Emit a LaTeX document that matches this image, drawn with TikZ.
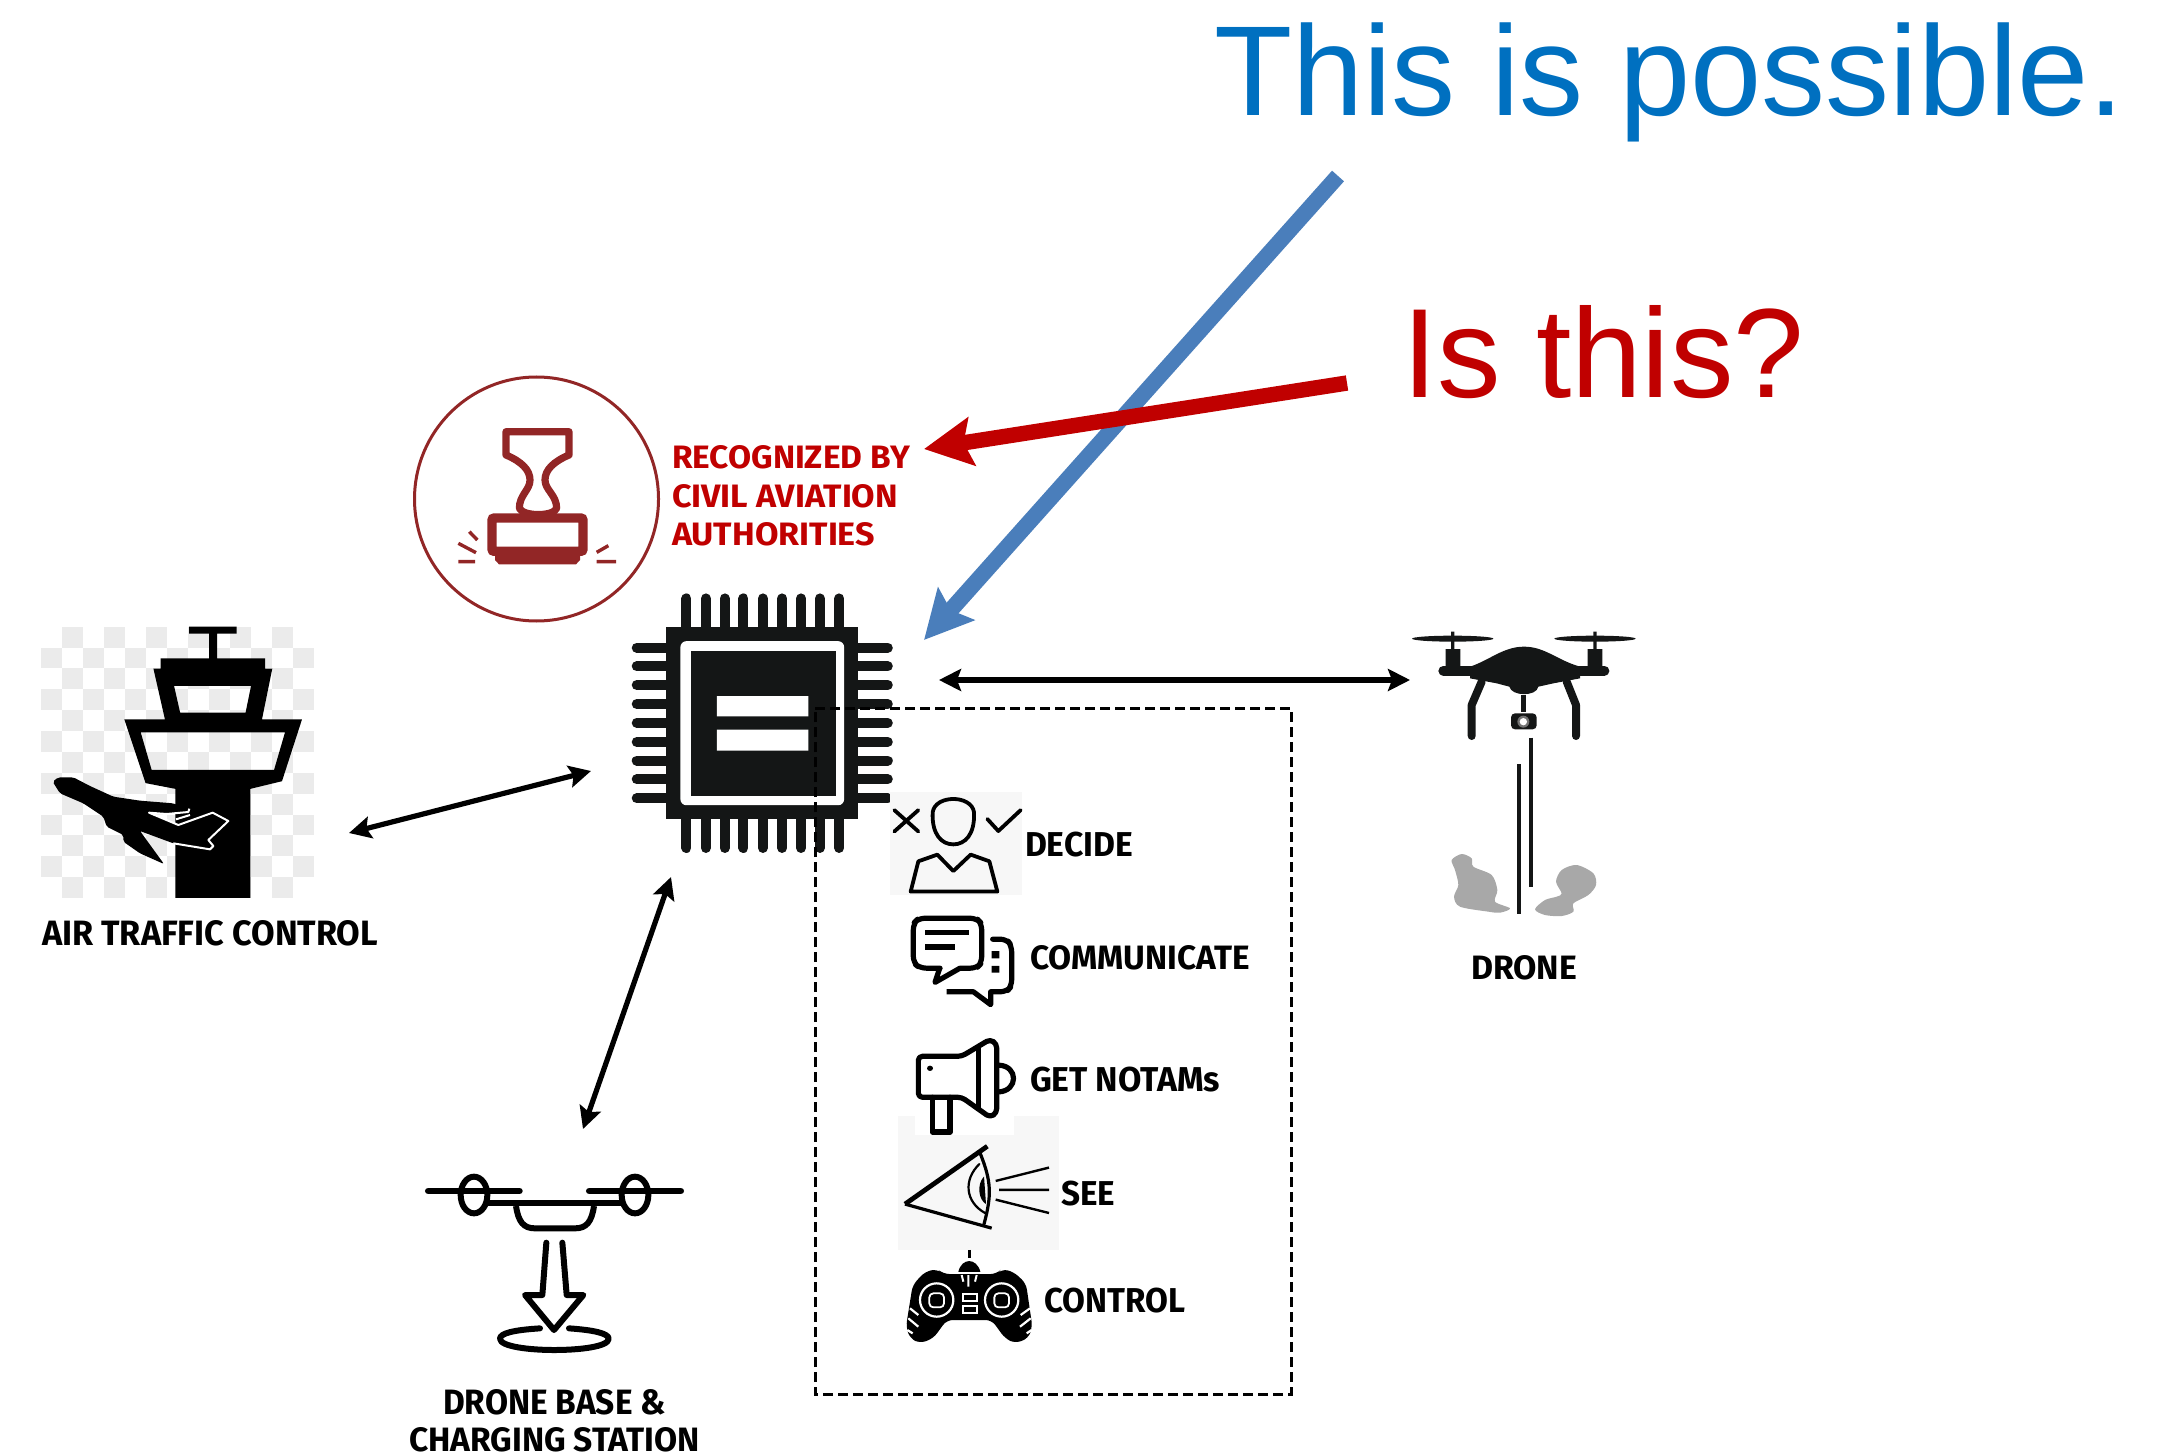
\documentclass[tikz,border=0pt]{standalone}
\usepackage{fontspec}
\usepackage{graphicx}
\setmainfont{Liberation Sans}
\newfontfamily\lblfont{Fira Sans}
\usetikzlibrary{arrows.meta}
\definecolor{blueT}{HTML}{0070C0}
\definecolor{redT}{HTML}{C00000}
\definecolor{blueA}{HTML}{4A7EBB}
\definecolor{stamp}{HTML}{922626}
\definecolor{chipk}{HTML}{141616}
\tikzset{
 zoomA/.style={x=0.3032pt,y=-0.1908pt,yshift=-175pt},
 zoomB/.style={x=0.16667pt,y=-0.2226pt,xshift=425pt,yshift=-375pt},
 zoomC/.style={x=0.16667pt,y=-0.16667pt,xshift=190pt,yshift=-550pt},
 zoomD/.style={x=0.16667pt,y=-0.16667pt,xshift=690pt,yshift=-300pt},
 zoomE/.style={x=0.16667pt,y=-0.16667pt,xshift=20pt,yshift=-380pt},
 zoomF/.style={x=0.16667pt,y=-0.16667pt,xshift=220pt,yshift=-210pt},
 zoomG/.style={x=0.16667pt,y=-0.16667pt,xshift=450pt,yshift=-635pt},
 twoway/.style={line width=2.6pt,{Stealth[length=11pt,width=11pt,inset=2pt]}-{Stealth[length=11pt,width=11pt,inset=2pt]}},
 bigblue/.style={line width=8pt,blueA,-{Stealth[length=24pt,width=24pt,inset=4pt]}},
 bigred/.style={line width=7.7pt,redT,-{Stealth[length=24pt,width=24pt,inset=4pt]}},
 lbl/.style={anchor=base west,inner sep=0pt,outer sep=0pt},
 ico/.style={line width=2.2pt,line join=round,line cap=round},
}
\newlength{\lblw}\newlength{\lblh}
% name, x, baseline, width (px), cap height (px), text
\newcommand{\lbltext}[7][black]{\setlength{\lblw}{#5pt}\setlength{\lblw}{0.5\lblw}\setlength{\lblh}{#6pt}\setlength{\lblh}{0.5\lblh}\node[lbl,text=#1] (#2) at (#3,#4) {\resizebox{\lblw}{\lblh}{\lblfont\bfseries #7}};}
\begin{document}
\begin{tikzpicture}[x=0.5pt,y=-0.5pt]
\useasboundingbox (0,0) rectangle (2177,1454);

% ---- ATC
\begin{scope}[zoomA]
\foreach \r in {0,...,12}{\foreach \c in {0,...,12}{
 \pgfmathtruncatemacro{\q}{mod(\r+\c,2)}
 \ifnum\q=1
  \fill[black!8] ({68+\c*34.6},{725+\r*54.7}) rectangle ++(34.6,54.7);
 \fi
}}
\fill[black,even odd rule] (312,725) -- (390,725) -- (390,743) -- (358,743) -- (358,808) -- (437,808) -- (437,835) -- (449,835) -- (432,968) -- (498,968) -- (465,1130) -- (413,1150) -- (413,1436) -- (289,1436) -- (289,1150) -- (240,1135) -- (205,968) -- (272,968) -- (253,835) -- (265,835) -- (265,808) -- (345,808) -- (345,743) -- (312,743) -- cycle
 (287,880) -- (414,880) -- (405,950) -- (297,950) -- cycle
 (232,1002) -- (470,1002) -- (452,1100) -- (250,1100) -- cycle;

% ---- chip
\fill[chipk] (1098,727) rectangle (1415,1228);
\foreach \px in {1132,1164,1195,1226,1258,1290,1321,1352,1384}{
 \draw[chipk,line width=5pt,line cap=round] (\px,651) -- (\px,1305);
}
\foreach \py in {780,829,878,928,977,1027,1076,1125,1175}{
 \draw[chipk,line width=5pt,line cap=round] (1050,\py) -- (1464,\py);
}
\fill[white,rounded corners=3pt] (1122,763) rectangle (1392,1193);
\fill[chipk] (1140,790) rectangle (1378,1168);
\fill[white] (1182,907) rectangle (1333,960) (1182,995) rectangle (1333,1050);
\end{scope}
\node[inner sep=0pt] (chip) at (761,724) {};

% ---- plane
\begin{scope}[zoomE]
\fill[black,rounded corners=1pt] (38,65) -- (55,52) -- (100,52) -- (150,78) -- (220,110) -- (300,122) -- (400,130) -- (445,148) -- (440,155) -- (380,160) -- (327,158) -- (415,195) -- (518,158) -- (565,183) -- (505,240) -- (520,258) -- (510,268) -- (400,250) -- (300,213) -- (372,312) -- (300,280) -- (250,245) -- (250,225) -- (200,200) -- (190,170) -- (130,130) -- (60,100) -- cycle;
\draw[white,line width=1pt,line join=round] (448,146) -- (445,156) -- (380,162) -- (327,158) -- (415,195) -- (518,158) -- (565,183) -- (505,240) -- (520,258) -- (510,268) -- (400,250);
\draw[white,line width=1pt] (408,178) -- (450,165);
\end{scope}

% ---- stamp
\draw[stamp,line width=1.5pt] (536.5,499) circle [radius=122];
\begin{scope}[zoomF]
\draw[stamp,line width=3.6pt,line join=round] (198,35) -- (387,35) -- (387,105) .. controls (340,125) and (315,150) .. (315,180) .. controls (315,210) and (350,225) .. (350,265) .. controls (340,290) and (250,290) .. (238,265) .. controls (238,225) and (270,210) .. (270,180) .. controls (270,150) and (245,125) .. (198,105) -- cycle;
\draw[stamp,line width=4.6pt,rounded corners=1pt] (156,294) rectangle (429,394);
\fill[stamp] (165,400) -- (420,400) -- (420,420) -- (408,433) -- (177,433) -- (165,420) -- cycle;
\draw[stamp,line width=1.7pt]
 (88,335) -- (112,360) (55,370) -- (108,398) (55,425) -- (105,425)
 (505,377) -- (470,397) (470,425) -- (528,425);
\end{scope}

% ---- dashed box
\draw[line width=1.5pt,dash pattern=on 5pt off 2.5pt] (815,708) -- (1291,708) -- (1291,1394) -- (815,1394) -- cycle;

% ---- activity icons
\begin{scope}[zoomB]
\fill[black!3] (120,95) rectangle (515,325);
\fill[black!3] (143,822) rectangle (627,1122);
\fill[white] (195,822) rectangle (493,865);
% person
\draw[ico,line width=1.9pt] (248,140) .. controls (255,100) and (365,100) .. (372,140) .. controls (375,190) and (345,212) .. (310,212) .. controls (275,212) and (245,190) .. (248,140) -- cycle;
\draw[ico,line width=1.9pt] (182,318) -- (205,250) -- (262,235) -- (310,272) -- (362,235) -- (418,250) -- (442,318) -- cycle;
\draw[ico,line width=1.9pt] (133,135) -- (205,183) (205,135) -- (133,183) (412,155) -- (445,182) -- (512,135);
% chat
\draw[ico,line width=2.6pt,rounded corners=3pt] (270,490) -- (210,490) -- (190,478) -- (190,390) -- (205,378) -- (380,378) -- (395,390) -- (395,478) -- (380,490) -- (330,490);
\draw[ico,line width=2.6pt,line cap=butt] (270,488) -- (255,522) -- (330,490);
\draw[line width=2.8pt] (225,410) -- (358,410) (225,443) -- (315,443);
\draw[ico,line width=2.6pt,rounded corners=3pt] (428,425) -- (470,425) -- (485,440) -- (485,530) -- (470,543) -- (422,543);
\draw[ico,line width=2.6pt,line cap=butt] (422,543) -- (422,572) -- (370,543) -- (290,543);
\fill (425,452) rectangle (448,468) (425,485) rectangle (448,500);
% megaphone
\draw[ico,line width=2.6pt,rounded corners=2pt] (205,688) -- (335,688) -- (420,650) -- (440,660) -- (440,815) -- (420,825) -- (335,780) -- (205,780) -- cycle;
\draw[line width=2.6pt] (385,665) -- (385,810);
\fill (240,715) ellipse [x radius=9,y radius=6];
\draw[ico,line width=2.6pt] (247,780) -- (247,858) -- (300,858) -- (300,780);
\draw[ico,line width=2.6pt] (447,708) .. controls (505,710) and (505,765) .. (447,768);
% eye
\draw[ico,line width=2.4pt,line cap=butt] (412,890) -- (165,1020);
\draw[ico,line width=1.6pt,line cap=butt] (165,1020) -- (425,1074);
\draw[ico,line width=1.6pt] (390,905) .. controls (425,970) and (425,1000) .. (402,1065);
\draw[ico,line width=1.1pt] (388,930) .. controls (340,965) and (345,1015) .. (405,1040);
\fill (402,958) .. controls (380,975) and (385,1010) .. (408,1020) -- cycle;
\draw[line width=1.2pt] (437,968) -- (597,938) (447,988) -- (597,988) (437,1010) -- (597,1040);
% gamepad antenna and dome
\draw[line width=1.6pt] (358,1123) -- (358,1142);
\fill (325,1172) .. controls (335,1140) and (380,1140) .. (391,1172) -- cycle;
\end{scope}

% ---- gamepad
\begin{scope}[zoomG]
\fill[rounded corners=3pt] (130,12) -- (290,12) -- (305,-3) -- (340,5) -- (378,40) -- (397,170) -- (385,205) -- (345,220) -- (315,205) -- (275,150) -- (140,150) -- (100,205) -- (60,220) -- (30,205) -- (18,170) -- (38,45) -- (75,5) -- (112,-3) -- cycle;
\foreach \cx in {110,305}{
 \draw[white,line width=1.1pt] (\cx,90) circle [radius=50];
 \draw[white,line width=.9pt,rounded corners=2pt] (\cx-22,70) rectangle (\cx+22,112);
}
\draw[white,line width=.9pt] (188,72) rectangle (232,92) (188,108) rectangle (232,130);
\draw[white,line width=1pt] (205,15) -- (205,50) (185,15) -- (190,35) (230,15) -- (225,35);
\draw[white,line width=1.1pt] (30,115) -- (55,135) (25,145) -- (55,170) (22,180) -- (38,190) (390,115) -- (362,135) (392,145) -- (360,170) (395,180) -- (380,190);
\end{scope}

% ---- base drone
\begin{scope}[zoomC]
\draw[ico,line width=3.4pt] (145,273) -- (418,273) (628,273) -- (902,273);
\draw[ico,line width=3pt] (282,285) ellipse [x radius=40,y radius=55];
\draw[ico,line width=3pt] (765,285) ellipse [x radius=40,y radius=55];
\draw[line width=3pt] (322,310) -- (725,310);
\draw[line width=3pt,line join=round] (408,318) .. controls (415,365) and (430,385) .. (465,385) -- (585,385) .. controls (620,385) and (635,365) .. (642,318);
\draw[ico,line width=3pt] (499,428) -- (487,585) -- (435,585) -- (522,690) -- (610,585) -- (560,585) -- (547,428);
\draw[ico,line width=3pt] (480,685) .. controls (400,690) and (360,700) .. (360,716) .. controls (360,740) and (450,750) .. (522,750) .. controls (600,750) and (686,740) .. (686,716) .. controls (686,700) and (640,690) .. (567,685);
\end{scope}

% ---- quad drone
\begin{scope}[zoomD]
\fill[chipk] (218,116) ellipse [x radius=122,y radius=9];
\fill[chipk] (645,116) ellipse [x radius=122,y radius=9];
\fill[chipk] (213,95) rectangle (223,150) (640,95) rectangle (650,150);
\fill[chipk] (197,147) rectangle (241,200) (623,147) rectangle (667,200);
\draw[chipk,line width=5pt,line cap=round] (190,212) -- (673,212);
\fill[chipk] (270,200) .. controls (330,180) and (370,140) .. (432,140) .. controls (495,140) and (530,180) .. (600,200) -- (600,235) -- (520,250) -- (475,260) .. controls (470,290) and (395,290) .. (388,260) -- (350,250) -- (270,235) -- cycle;
\draw[chipk,line width=4pt,line join=round,line cap=round] (305,245) -- (275,315) -- (275,408) (560,245) -- (588,315) -- (588,408);
\fill[chipk] (424,285) rectangle (438,335);
\fill[chipk,rounded corners=2pt] (393,340) rectangle (470,388);
\fill[black!55] (430,365) circle [radius=18];
\fill[white] (430,365) circle [radius=11];
\draw[chipk,line width=2pt] (416,492) -- (416,942) (453,413) -- (453,862);
\fill[black!34] plot[smooth cycle] coordinates {(215,780) (245,762) (275,775) (280,800) (335,825) (352,870) (345,905) (390,925) (360,938) (325,935) (240,920) (222,890) (235,855) (225,810)};
\fill[black!34] plot[smooth cycle] coordinates {(465,928) (495,900) (530,890) (545,880) (528,845) (545,810) (590,795) (640,820) (648,855) (625,885) (580,910) (580,935) (545,948) (495,945)};
\end{scope}

% ---- labels
\lbltext{atc}{42}{945}{336}{25}{AIR TRAFFIC CONTROL}
\lbltext[redT]{rec1}{672}{468}{238}{23}{RECOGNIZED BY}
\lbltext[redT]{rec2}{672}{507}{226}{23}{CIVIL AVIATION}
\lbltext[redT]{rec3}{672}{545}{203}{23}{AUTHORITIES}
\lbltext{drone}{1471}{979}{106}{24}{DRONE}
\lbltext{base1}{443}{1414}{223}{25}{DRONE BASE \&}
\lbltext{base2}{409}{1451}{291}{24}{CHARGING STATION}
\lbltext{decide}{1025}{856}{108}{24.5}{DECIDE}
\lbltext{comm}{1030}{969}{220}{24}{COMMUNICATE}
\lbltext{notam}{1030}{1091.5}{190}{24.5}{GET NOTAMs}
\lbltext{see}{1061}{1205.5}{54}{24.5}{SEE}
\lbltext{ctrl}{1044}{1312}{141}{24.5}{CONTROL}

\node[lbl,text=blueT,font=\fontsize{64pt}{64pt}\selectfont] (q1) at (1214,115.6) {This is possible.};
\node[lbl,text=redT,font=\fontsize{63.5pt}{64pt}\selectfont] (q2) at (1402,398) {Is this?};

% ---- connector ends
\coordinate (atcEnd) at (349,833);
\coordinate (chipW) at (591,771);
\coordinate (chipE) at (939,680);
\coordinate (droneW) at (1410,680);
\coordinate (chipS) at (671,877);
\coordinate (baseN) at (583,1129);
\coordinate (q1from) at (1338,176);
\coordinate (q1to) at (924,640);
\coordinate (q2from) at (1347,383);
\coordinate (q2to) at (924,449);
\draw[twoway] (atcEnd) -- (chipW);
\draw[twoway] (chipE) -- (droneW);
\draw[twoway] (chipS) -- (baseN);
\draw[bigblue] (q1from) -- (q1to);
\draw[bigred] (q2from) -- (q2to);
\end{tikzpicture}
\end{document}
